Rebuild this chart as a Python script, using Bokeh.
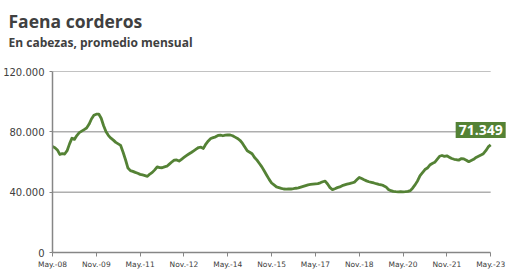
from bokeh.plotting import figure
from bokeh.models import Range1d, FixedTicker, Label, Title
from bokeh.embed import file_html
from bokeh.resources import INLINE

# Monthly lamb slaughter (head, monthly average), May-2008 .. May-2023
values = [
    70.3, 69.5, 68.0, 65.0, 65.5, 65.3, 67.5, 72.0, 75.8, 75.0,
    77.5, 79.5, 80.5, 81.5, 82.5, 85.0, 88.5, 91.0, 91.7, 91.8,
    89.0, 84.0, 80.0, 77.5, 75.8, 74.5, 73.0, 72.0, 71.0, 66.5,
    61.5, 56.0, 54.3, 53.8, 53.1, 52.5, 51.8, 51.4, 51.0, 50.5,
    52.0, 53.1, 54.8, 56.8, 56.3, 56.2, 56.8, 57.2, 58.6, 60.0,
    61.3, 61.4, 60.6, 61.8, 63.0, 64.2, 65.3, 66.3, 67.4, 68.5,
    69.6, 69.8, 69.0, 71.9, 74.0, 75.6, 76.2, 76.7, 77.6, 77.8,
    77.4, 77.8, 78.0, 77.9, 77.4, 76.5, 75.6, 74.4, 72.5, 70.0,
    67.4, 66.5, 65.5, 63.0, 61.2, 59.0, 56.8, 54.0, 51.2, 48.5,
    46.1, 44.8, 43.5, 43.0, 42.5, 42.1, 42.0, 42.1, 42.1, 42.3,
    42.6, 42.8, 43.3, 43.8, 44.3, 44.8, 45.1, 45.3, 45.5, 45.7,
    46.2, 46.9, 47.3, 45.4, 43.0, 41.7, 42.3, 43.0, 43.5, 44.3,
    44.8, 45.3, 45.7, 46.1, 46.6, 48.2, 49.8, 49.0, 48.2, 47.5,
    46.9, 46.5, 46.1, 45.6, 45.2, 44.9, 44.3, 43.5, 41.8, 41.0,
    40.5, 40.3, 40.2, 40.3, 40.2, 40.3, 40.5, 41.0, 42.8, 45.0,
    47.6, 51.0, 53.0, 55.0, 56.0, 58.0, 59.0, 59.8, 61.8, 63.8,
    64.3, 63.7, 64.1, 63.2, 62.3, 61.8, 61.5, 61.3, 62.3, 62.0,
    61.2, 60.2, 61.0, 61.8, 63.0, 63.8, 64.6, 65.5, 67.5, 70.0,
    71.349,
]
values = [v * 1000 for v in values]
months = list(range(len(values)))

x_tick_pos = [0, 18, 36, 54, 72, 90, 108, 126, 144, 162, 180]
x_tick_labels = ["May.-08", "Nov.-09", "May.-11", "Nov.-12", "May.-14", "Nov.-15",
                 "May.-17", "Nov.-18", "May.-20", "Nov.-21", "May.-23"]
y_tick_pos = [0, 40000, 80000, 120000]
y_tick_labels = ["0", "40.000", "80.000", "120.000"]

title_text = "Faena corderos"
subtitle_text = "En cabezas, promedio mensual"

GREEN = "#548235"
TEXT = "#404040"
GRID = "#868686"

x_last = x_tick_pos[-1]

p = figure(width=508, height=280, output_backend="svg", toolbar_location=None,
           x_range=Range1d(0, 186.5), y_range=Range1d(0, 120000),
           min_border_left=52, min_border_right=2, min_border_top=10,
           min_border_bottom=28)
p.outline_line_color = None
p.background_fill_color = "white"
p.border_fill_color = "white"

# horizontal gridlines ending at the last month
gl = [t for t in y_tick_pos if t > 0]
p.segment(x0=[0] * len(gl), x1=[x_last] * len(gl), y0=gl, y1=gl,
          line_color=GRID, line_width=1)

p.line(months, values, line_color=GREEN, line_width=2.8, line_join="round")

p.xgrid.visible = False
p.ygrid.visible = False

p.xaxis.ticker = FixedTicker(ticks=x_tick_pos)
p.xaxis.bounds = (0, x_last)
p.xaxis.major_label_overrides = dict(zip(x_tick_pos, x_tick_labels))
p.xaxis.minor_tick_line_color = None
p.xaxis.major_tick_in = 0
p.xaxis.major_tick_out = 4
p.xaxis.axis_line_color = GRID
p.xaxis.axis_line_width = 1.5
p.xaxis.major_tick_line_color = GRID
p.xaxis.major_label_text_font = "DejaVu Sans"
p.xaxis.major_label_text_font_size = "7.5px"
p.xaxis.major_label_text_color = TEXT
p.xaxis.major_label_standoff = 3

p.yaxis.ticker = FixedTicker(ticks=y_tick_pos)
p.yaxis.major_label_overrides = dict(zip(y_tick_pos, y_tick_labels))
p.yaxis.minor_tick_line_color = None
p.yaxis.major_tick_in = 0
p.yaxis.major_tick_out = 3
p.yaxis.axis_line_color = GRID
p.yaxis.axis_line_width = 1.5
p.yaxis.major_tick_line_color = GRID
p.yaxis.major_label_text_font = "DejaVu Sans"
p.yaxis.major_label_text_font_size = "10px"
p.yaxis.major_label_text_color = TEXT
p.yaxis.major_label_standoff = 5

# stacked from the frame upward: spacer, subtitle, title, spacer
p.add_layout(Title(text=" ", text_font_size="1px", standoff=18), "above")
p.add_layout(Title(text=subtitle_text, text_font="Open Sans", text_font_style="bold",
                   text_font_size="12px", text_color=TEXT, align="left",
                   offset=-44, standoff=0), "above")
p.add_layout(Title(text=title_text, text_font="Open Sans", text_font_style="bold",
                   text_font_size="17.5px", text_color=TEXT, align="left",
                   offset=-44, standoff=-2), "above")
p.add_layout(Title(text=" ", text_font_size="1px", standoff=4), "above")

last = values[-1]
last_text = f"{last:,.0f}".replace(",", ".")
p.add_layout(Label(x=months[-1], y=last, text=last_text, x_offset=-10, y_offset=15,
                   text_font="Open Sans", text_font_style="bold", text_font_size="14px",
                   text_color="white", text_align="center", text_baseline="middle",
                   background_fill_color=GREEN, padding=3))

open("out.html", "w").write(file_html(p, INLINE))
